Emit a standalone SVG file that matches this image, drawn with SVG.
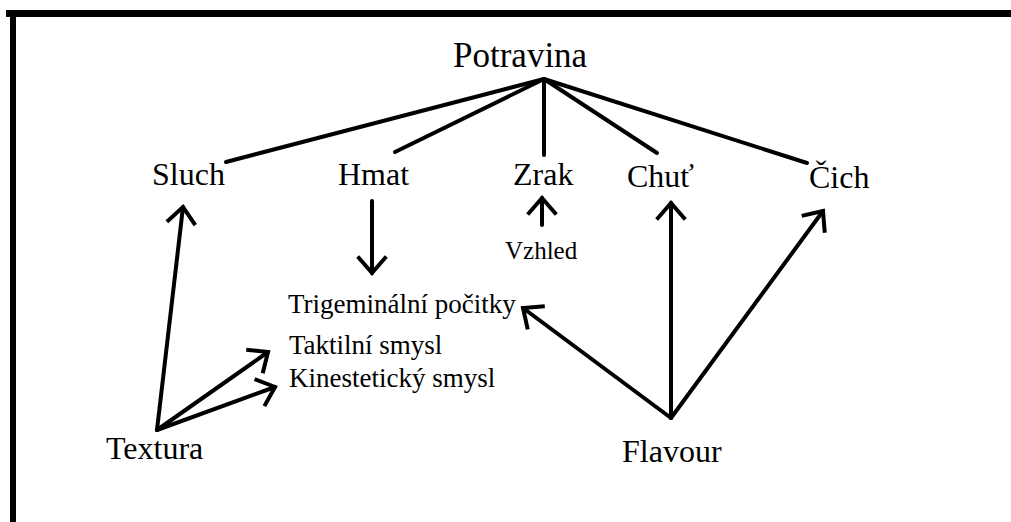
<svg xmlns="http://www.w3.org/2000/svg" width="1011" height="522" viewBox="0 0 1011 522">
  <style>
    .t { font-family: "Liberation Serif", "Times New Roman", serif; fill: #000; }
    .big { font-size: 32px; }
    .top { font-size: 35px; }
    .mid { font-size: 27px; }
    .sm { font-size: 25px; }
    .c { stroke: #000; stroke-width: 4; fill: none; stroke-linecap: round; }
    .a { marker-end: url(#arr); }
  </style>
  <defs>
    <marker id="arr" markerUnits="userSpaceOnUse" markerWidth="40" markerHeight="40" refX="0" refY="0" orient="auto" overflow="visible">
      <path d="M-15,-13 L0,0 L-15,13" fill="none" stroke="#000" stroke-width="4" stroke-linecap="square" stroke-linejoin="miter"/>
    </marker>
  </defs>
  <rect x="0" y="0" width="1011" height="522" fill="#fff"/>
  <g id="frame">
    <rect x="6" y="10" width="1005" height="7" fill="#000"/>
    <rect x="10" y="10" width="6" height="512" fill="#000"/>
  </g>
  <g id="connectors">
    <line class="c" x1="544" y1="79" x2="226" y2="162"/>
    <line class="c" x1="544" y1="79" x2="395" y2="152"/>
    <line class="c" x1="544" y1="79" x2="544" y2="155"/>
    <line class="c" x1="544" y1="79" x2="657" y2="153"/>
    <line class="c" x1="544" y1="79" x2="807" y2="163"/>
    <line class="c a" x1="372" y1="201" x2="372" y2="273"/>
    <line class="c a" x1="542" y1="225" x2="542" y2="198"/>
    <line class="c a" x1="157" y1="430" x2="183" y2="207"/>
    <line class="c a" x1="157" y1="430" x2="268" y2="352"/>
    <line class="c a" x1="157" y1="430" x2="275" y2="387"/>
    <line class="c a" x1="671" y1="418" x2="671" y2="203"/>
    <line class="c a" x1="671" y1="418" x2="823" y2="211"/>
    <line class="c a" x1="671" y1="418" x2="523" y2="308"/>
  </g>
  <g id="potravina"><text class="t top" x="453" y="67">Potravina</text></g>
  <g id="sluch"><text class="t big" x="152" y="185">Sluch</text></g>
  <g id="hmat"><text class="t big" x="338" y="185">Hmat</text></g>
  <g id="zrak"><text class="t big" x="513" y="185">Zrak</text></g>
  <g id="chut"><text class="t big" x="627" y="187">Chuť</text></g>
  <g id="cich"><text class="t big" x="809" y="188">Čich</text></g>
  <g id="vzhled"><text class="t sm" x="505" y="259">Vzhled</text></g>
  <g id="trigeminalni"><text class="t mid" x="288" y="313">Trigeminální počitky</text></g>
  <g id="taktilni"><text class="t mid" x="289" y="354">Taktilní smysl</text></g>
  <g id="kinesteticky"><text class="t mid" x="289" y="387">Kinestetický smysl</text></g>
  <g id="textura"><text class="t big" x="106" y="459">Textura</text></g>
  <g id="flavour"><text class="t big" x="622" y="462">Flavour</text></g>
</svg>
